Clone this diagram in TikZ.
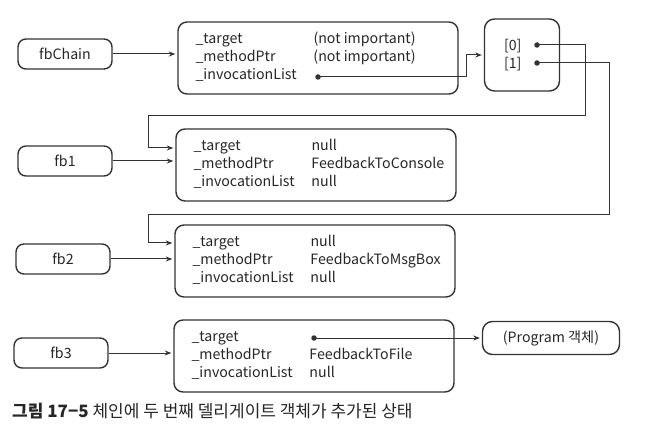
\documentclass[tikz,border=0pt]{standalone}
\usepackage{fontspec}
\setmainfont{Noto Sans CJK KR}
\usetikzlibrary{positioning,arrows.meta}

\begin{document}
\begin{tikzpicture}[x=1pt, y=-1pt, every node/.style={font=\fontsize{14.2}{18}\selectfont, text=black!85},
  ref/.style={draw=black!80, line width=1.4pt, rounded corners=8pt, minimum width=94pt, minimum height=30pt},
  obj/.style={draw=black!80, line width=1.4pt, rounded corners=9pt, minimum width=280pt, minimum height=72pt},
  fields/.style={inner sep=0pt, right=18pt of #1.west},
  arr/.style={draw=black!80, line width=1pt, -{Stealth[length=6.5pt, width=5pt]}, shorten >=2pt},
  dot/.style={circle, fill=black!80, inner sep=0pt, minimum size=5.5pt}]
\useasboundingbox (0,0) rectangle (650,438);
% variables
\node[ref] (fbChain) at (65,54) {fbChain};
\node[ref] (fb1) at (65,161) {fb1};
\node[ref] (fb2) at (63,259) {fb2};
\node[ref] (fb3) at (61,353) {fb3};
% delegate objects
\node[obj] (chain) at (318,58) {};
\node[fields=chain] (chainTxt) {\begin{tabular}{@{}p{118pt}@{}l@{}}\_target & (not important)\\ \_methodPtr & (not important)\\ \_invocationList & \end{tabular}};
\node[obj] (o1) at (316,165) {};
\node[fields=o1] (o1Txt) {\begin{tabular}{@{}p{118pt}@{}l@{}}\_target & null\\ \_methodPtr & FeedbackToConsole\\ \_invocationList & null\end{tabular}};
\node[obj] (o2) at (315,261) {};
\node[fields=o2] (o2Txt) {\begin{tabular}{@{}p{118pt}@{}l@{}}\_target & null\\ \_methodPtr & FeedbackToMsgBox\\ \_invocationList & null\end{tabular}};
\node[obj] (o3) at (314,356) {};
\node[fields=o3] (o3Txt) {\begin{tabular}{@{}p{118pt}@{}l@{}}\_target & \\ \_methodPtr & FeedbackToFile\\ \_invocationList & null\end{tabular}};
% invocation list array
\node[obj, minimum width=75pt, rounded corners=10pt] (list) at (522,55) {};
\node[right=20pt of list.west, align=left, inner sep=0pt] (listTxt) {{[0]}\\{[1]}};
\node[ref, minimum width=137pt, minimum height=33pt, rounded corners=10pt] (prog) at (551,338) {(Program 객체)};
% reference dots
\node[dot] (inv) at (318,77) {};
\node[dot] (slot0) at (537,45) {};
\node[dot] (slot1) at (537,63) {};
\node[dot] (tgt) at (314,338) {};
% arrows
\draw[arr] (fbChain) -- (fbChain -| chain.west);
\draw[arr] (fb1) -- (fb1 -| o1.west);
\draw[arr] (fb2) -- (fb2 -| o2.west);
\draw[arr] (fb3) -- (fb3 -| o3.west);
\draw[arr] (inv.center) -- ++(148,0) |- (list.west);
\draw[arr] (slot0.center) -| (585,116) -| (148,148) -- ([yshift=17pt]o1.west);
\draw[arr] (slot1.center) -| (609,215) -| (148,243) -- ([yshift=18pt]o2.west);
\draw[arr] (tgt.center) -- (prog);
% caption
\node[anchor=base west, inner sep=0pt, font=\fontsize{17}{19}\selectfont] (caption) at (12,417) {\textbf{그림 17−5} 체인에 두 번째 델리게이트 객체가 추가된 상태};
\end{tikzpicture}
\end{document}
